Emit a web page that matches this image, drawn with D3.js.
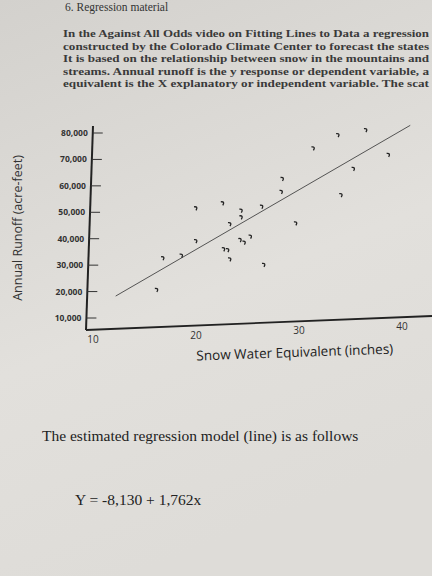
<!DOCTYPE html>
<html><head><meta charset="utf-8">
<script src="https://cdn.jsdelivr.net/npm/d3@7"></script>
<style>body{margin:0;overflow:hidden}</style></head>
<body><svg id="c" width="432" height="576"></svg>
<script>
const snowX=[16.2,16.8,18.6,20.0,20.0,22.6,23.3,22.7,23.1,23.3,24.4,24.4,24.3,24.7,25.3,26.4,26.6,28.3,28.4,29.7,31.4,33.8,34.1,35.3,36.5,38.7];
const runoffY=[20600,32600,33600,39100,51500,53400,45500,36000,35700,32200,50600,48100,39500,38500,40800,52100,30100,57700,62600,45800,74200,79200,56500,66400,81100,71700];
const lineX=[12.2,40.8];
const lineY=[18300,82900];
const xTicks=[10,20,30,40];
const yTicks=[10000,20000,30000,40000,50000,60000,70000,80000];
const paragraph=["In the Against All Odds video on Fitting Lines to Data a regression",
"constructed by the Colorado Climate Center to forecast the states",
"It is based on the relationship between snow in the mountains and",
"streams. Annual runoff is the y response or dependent variable, a",
"equivalent is the X explanatory or independent variable. The scat"];

const svg=d3.select("#c");
const defs=svg.append("defs");
const g=defs.append("linearGradient").attr("id","bg").attr("x1",0).attr("y1",0).attr("x2",0.3).attr("y2",1);
g.append("stop").attr("offset",0).attr("stop-color","#d3d1cd");
g.append("stop").attr("offset",0.6).attr("stop-color","#e2e0dc");
g.append("stop").attr("offset",1).attr("stop-color","#dedcd8");
svg.append("rect").attr("width",432).attr("height",576).attr("fill","url(#bg)");

const serif="'Liberation Serif','DejaVu Serif',serif", sans="'Open Sans','DejaVu Sans',sans-serif";
svg.append("text").attr("x",65).attr("y",11).attr("font-family",serif).attr("font-size",11.5).attr("fill","#333").text("6. Regression material");
paragraph.forEach((t,i)=>svg.append("text").attr("x",63).attr("y",37+i*12.5).attr("font-family",serif)
  .attr("font-size",11.3).attr("font-weight","bold").attr("fill","#3a3a3a").attr("textLength",366).attr("lengthAdjust","spacingAndGlyphs").text(t));

const x=d3.scaleLinear().domain([10,40]).range([93,402]);
const y=d3.scaleLinear().domain([10000,80000]).range([318,133]);

svg.append("line").attr("x1",93).attr("x2",86).attr("y1",126).attr("y2",330).attr("stroke","#222").attr("stroke-width",2);
svg.append("line").attr("x1",86).attr("x2",432).attr("y1",330).attr("y2",316).attr("stroke","#222").attr("stroke-width",1.8);
yTicks.forEach(v=>{
  const ax=93-(y(v)-126)*7/204;
  svg.append("line").attr("x1",ax).attr("x2",ax+10).attr("y1",y(v)).attr("y2",y(v)).attr("stroke","#333").attr("stroke-width",1);
  svg.append("text").attr("x",ax-5).attr("y",y(v)+3).attr("text-anchor","end").attr("font-family",sans).attr("font-size",8.5).attr("font-weight","bold").attr("fill","#333").text(d3.format(",")(v));
});
xTicks.forEach(v=>{
  const yy=330-(x(v)-86)*14/346;
  svg.append("text").attr("x",x(v)).attr("y",yy+13).attr("text-anchor","middle").attr("font-family",sans).attr("font-size",10).attr("fill","#333").text(v);
});
svg.append("text").attr("x",295).attr("y",357).attr("text-anchor","middle").attr("font-family",sans).attr("font-size",13.5).attr("fill","#222").attr("transform","rotate(-2,295,357)").text("Snow Water Equivalent (inches)");
svg.append("text").attr("transform","translate(22,228) rotate(-90)").attr("text-anchor","middle").attr("font-family",sans).attr("font-size",12.5).attr("fill","#333").text("Annual Runoff (acre-feet)");

svg.append("line").attr("x1",x(lineX[0])).attr("y1",y(lineY[0])).attr("x2",x(lineX[1])).attr("y2",y(lineY[1])).attr("stroke","#444").attr("stroke-width",0.9);
snowX.forEach((d,i)=>{
  const px=x(d),py=y(runoffY[i]);
  svg.append("path").attr("d",`M${px-2},${py-1.5} Q${px+2.5},${py-2} ${px},${py+2}`).attr("fill","none").attr("stroke","#222").attr("stroke-width",1.3);
});

svg.append("text").attr("x",42).attr("y",441).attr("font-family",serif).attr("font-size",15.5).attr("fill","#222").text("The estimated regression model (line) is as follows");
svg.append("text").attr("x",75).attr("y",505).attr("font-family",serif).attr("font-size",15.5).attr("fill","#222").text("Y = -8,130 + 1,762x");
</script></body></html>
